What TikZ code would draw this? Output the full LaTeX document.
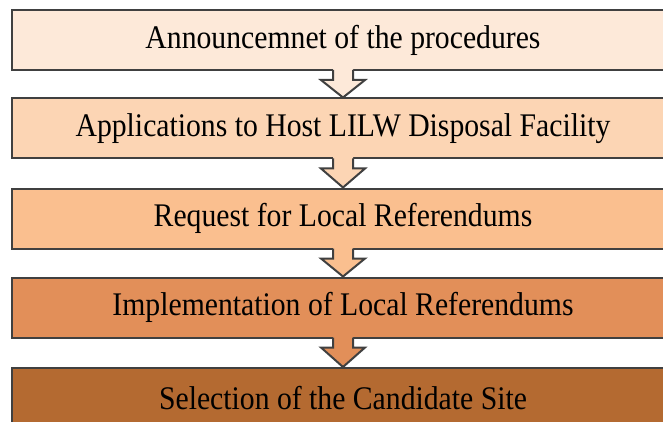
\documentclass[tikz,border=0pt]{standalone}
\usepackage{fontspec}
\setmainfont{Liberation Serif}[FakeStretch=0.9]
\usetikzlibrary{calc}

\definecolor{edgegray}{HTML}{404040}
\definecolor{stageA}{HTML}{FDE9D9}
\definecolor{stageB}{HTML}{FCD5B4}
\definecolor{stageC}{HTML}{FABF8F}
\definecolor{stageD}{HTML}{E28F59}
\definecolor{stageE}{HTML}{B46A31}

\tikzset{
  stage/.style={draw=edgegray, line width=2pt, minimum width=662pt,
    minimum height=60pt, inner sep=0pt,
    font=\fontsize{33}{38}\selectfont},
  edgeline/.style={draw=edgegray, line width=2pt, line join=miter},
}

% hollow block arrow hanging from the bottom of one stage to the top of the next
\newcommand\flowarrow[3]{%
  \fill[#3] ($(#1.south)+(-10,-2.5)$) -- ($(#1.south)+(-10,9)$)
    -- ($(#1.south)+(-22,9)$) -- (#2.north) -- ($(#1.south)+(22,9)$)
    -- ($(#1.south)+(10,9)$) -- ($(#1.south)+(10,-2.5)$) -- cycle;
  \draw[edgeline] ($(#1.south)+(-10,-1)$) -- ($(#1.south)+(-10,9)$)
    -- ($(#1.south)+(-22,9)$) -- (#2.north) -- ($(#1.south)+(22,9)$)
    -- ($(#1.south)+(10,9)$) -- ($(#1.south)+(10,-1)$);
}

\begin{document}
\begin{tikzpicture}[x=1pt,y=-1pt]
\useasboundingbox (0,0) rectangle (663,422);
\fill[white] (0,0) rectangle (663,422);
\clip (0,0) rectangle (663,422);

\node[stage, fill=stageA] (s1) at (343,40)    {Announcemnet of the procedures};
\node[stage, fill=stageB] (s2) at (343,128.5) {Applications to Host LILW Disposal Facility};
\node[stage, fill=stageC] (s3) at (343,218.5) {Request for Local Referendums};
\node[stage, fill=stageD] (s4) at (343,307.5) {Implementation of Local Referendums};
\node[stage, fill=stageE] (s5) at (343,398)   {Selection of the Candidate Site};

\flowarrow{s1}{s2}{stageA}
\flowarrow{s2}{s3}{stageB}
\flowarrow{s3}{s4}{stageC}
\flowarrow{s4}{s5}{stageD}
\end{tikzpicture}
\end{document}
